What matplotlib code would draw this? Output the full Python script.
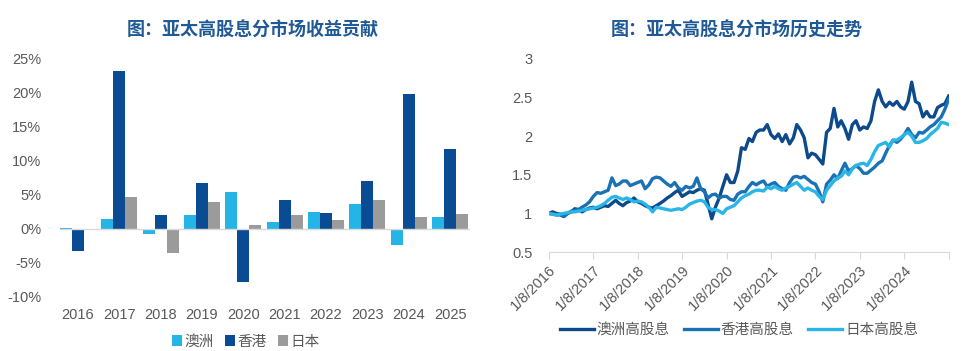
import numpy as np
import pandas as pd
import matplotlib
matplotlib.use("Agg")
import matplotlib.pyplot as plt
import matplotlib.dates as md

plt.rcParams['font.family'] = ['Liberation Sans', 'Noto Sans CJK SC']
plt.rcParams['axes.unicode_minus'] = False

# ---- left chart: yearly contribution (%)
years = ['2016', '2017', '2018', '2019', '2020', '2021', '2022', '2023', '2024', '2025']
au = [0.2, 1.4, -0.7, 2.1, 5.5, 1.0, 2.5, 3.7, -2.4, 1.8]
hk = [-3.2, 23.3, 2.0, 6.7, -7.8, 4.2, 2.3, 7.1, 19.9, 11.7]
jp = [-0.2, 4.7, -3.6, 4.0, 0.6, 2.0, 1.3, 4.2, 1.8, 2.2]

# ---- right chart: monthly index, 2016-08 .. 2025-08
au_idx = [1.00, 1.02, 1.00, 0.99, 0.96, 1.00, 1.02, 1.06, 1.05, 1.02, 1.05, 1.07,
          1.08, 1.06, 1.08, 1.10, 1.09, 1.13, 1.17, 1.13, 1.10, 1.14, 1.16, 1.20,
          1.15, 1.13, 1.10, 1.08, 1.07, 1.10, 1.13, 1.16, 1.20, 1.23, 1.27, 1.30,
          1.22, 1.25, 1.28, 1.27, 1.30, 1.32, 1.30, 1.12, 0.93, 1.08, 1.20, 1.35,
          1.50, 1.40, 1.40, 1.55, 1.85, 1.83, 1.97, 1.93, 2.05, 2.08, 2.08, 2.15,
          2.02, 1.97, 2.03, 1.93, 2.02, 1.90, 1.98, 2.15, 2.08, 1.98, 1.72, 1.78,
          1.76, 1.70, 1.64, 2.05, 2.10, 2.36, 2.12, 2.20, 2.10, 1.96, 2.15, 2.20,
          2.08, 2.12, 2.10, 2.20, 2.45, 2.60, 2.45, 2.38, 2.44, 2.40, 2.45, 2.38,
          2.35, 2.45, 2.70, 2.45, 2.42, 2.25, 2.32, 2.25, 2.25, 2.37, 2.40, 2.42,
          2.52]
hk_idx = [1.00, 0.99, 0.98, 0.98, 0.96, 1.00, 1.03, 1.04, 1.05, 1.08, 1.11, 1.15,
          1.22, 1.27, 1.26, 1.28, 1.30, 1.46, 1.36, 1.38, 1.42, 1.42, 1.36, 1.38,
          1.40, 1.42, 1.32, 1.37, 1.45, 1.47, 1.46, 1.42, 1.38, 1.35, 1.40, 1.33,
          1.30, 1.35, 1.33, 1.35, 1.46, 1.32, 1.28, 1.20, 1.24, 1.25, 1.20, 1.22,
          1.22, 1.18, 1.17, 1.25, 1.28, 1.28, 1.35, 1.40, 1.37, 1.40, 1.42, 1.35,
          1.38, 1.40, 1.35, 1.32, 1.30, 1.40, 1.47, 1.48, 1.46, 1.48, 1.44, 1.40,
          1.38, 1.28, 1.15, 1.38, 1.43, 1.50, 1.45, 1.55, 1.65, 1.55, 1.58, 1.62,
          1.58, 1.52, 1.52, 1.56, 1.60, 1.65, 1.68, 1.78, 1.88, 1.95, 1.92, 1.96,
          2.02, 2.10, 2.02, 1.98, 2.05, 2.04, 2.08, 2.12, 2.15, 2.20, 2.25, 2.35,
          2.48]
jp_idx = [1.00, 0.99, 0.98, 0.99, 1.00, 1.01, 1.02, 1.02, 1.03, 1.04, 1.05, 1.06,
          1.07, 1.08, 1.10, 1.13, 1.17, 1.21, 1.22, 1.20, 1.18, 1.20, 1.18, 1.15,
          1.16, 1.15, 1.12, 1.08, 1.02, 1.08, 1.07, 1.06, 1.05, 1.04, 1.05, 1.06,
          1.05, 1.08, 1.12, 1.14, 1.16, 1.17, 1.15, 1.08, 1.05, 1.05, 1.03, 1.00,
          1.06, 1.08, 1.10, 1.15, 1.20, 1.23, 1.25, 1.28, 1.30, 1.30, 1.29, 1.34,
          1.32, 1.35, 1.32, 1.30, 1.33, 1.35, 1.38, 1.40, 1.35, 1.30, 1.33, 1.30,
          1.28, 1.22, 1.18, 1.30, 1.36, 1.42, 1.46, 1.48, 1.55, 1.50, 1.58, 1.62,
          1.64, 1.65, 1.62, 1.70, 1.80, 1.88, 1.90, 1.92, 1.86, 1.95, 1.95, 1.98,
          2.02, 2.05, 2.00, 1.92, 1.92, 1.94, 1.97, 2.02, 2.06, 2.10, 2.18, 2.17,
          2.15]
dates = pd.date_range('2016-08-01', periods=len(au_idx), freq='MS')
tick_dates = pd.date_range('2016-08-01', '2024-08-01', freq='12MS')

c_au = '#25B4E6'
c_hk = '#0A4C93'
c_jp = '#9B9B9B'
l_au = '#0D4A8C'
l_hk = '#1A72B5'
l_jp = '#29B6E6'
title_c = '#1F5A96'
txt_c = '#595959'

fig = plt.figure(figsize=(9.75, 3.51), dpi=100)

# bar chart
ax1 = fig.add_axes([0.062, 0.154, 0.42, 0.678])
x = np.arange(len(years))
w = 0.29
ax1.bar(x - w, au, w, color=c_au, label='澳洲')
ax1.bar(x, hk, w, color=c_hk, label='香港')
ax1.bar(x + w, jp, w, color=c_jp, label='日本')
ax1.axhline(0, color='#D9D9D9', lw=1)
ax1.set_xlim(-0.42, 9.48)
ax1.set_ylim(-10, 25)
ax1.set_yticks(range(-10, 26, 5))
ax1.set_yticklabels([f'{v}%' for v in range(-10, 26, 5)])
ax1.set_xticks(x)
ax1.set_xticklabels(years)
for s in ax1.spines.values():
    s.set_visible(False)
ax1.tick_params(length=0, colors=txt_c, labelsize=10.5)
ax1.tick_params(axis='x', pad=8)
ax1.tick_params(axis='y', pad=14)
ax1.set_title('图：亚太高股息分市场收益贡献', color=title_c, fontsize=13,
              fontweight='bold', pad=17, x=0.47)
fig.legend(*ax1.get_legend_handles_labels(), loc='center', bbox_to_anchor=(0.252, 0.027),
           ncol=3, frameon=False, fontsize=10.5, labelcolor=txt_c, handlelength=0.7,
           handleheight=0.7, handletextpad=0.15, columnspacing=0.8)

# line chart
ax2 = fig.add_axes([0.563, 0.282, 0.41, 0.55])
ax2.plot(dates, au_idx, color=l_au, lw=2.4, label='澳洲高股息')
ax2.plot(dates, hk_idx, color=l_hk, lw=2.4, label='香港高股息')
ax2.plot(dates, jp_idx, color=l_jp, lw=2.4, label='日本高股息')
ax2.set_xlim(dates[0], dates[-1])
ax2.set_ylim(0.5, 3)
ax2.set_yticks([0.5, 1, 1.5, 2, 2.5, 3])
ax2.set_yticklabels(['0.5', '1', '1.5', '2', '2.5', '3'])
ax2.set_xticks(list(tick_dates) + [dates[-1]])
ax2.set_xticklabels([d.strftime('1/8/%Y') for d in tick_dates] + [''])
plt.setp(ax2.get_xticklabels(), rotation=45, ha='right', rotation_mode='anchor')
for s in ['top', 'right', 'left']:
    ax2.spines[s].set_visible(False)
ax2.spines['bottom'].set_color('#D9D9D9')
ax2.tick_params(axis='y', length=0, colors=txt_c, labelsize=10.5, pad=12)
ax2.tick_params(axis='x', length=5, color='#D9D9D9', labelcolor=txt_c, labelsize=10.5, pad=3)
ax2.set_title('图：亚太高股息分市场历史走势', color=title_c, fontsize=13,
              fontweight='bold', pad=17, x=0.47)
fig.legend(*ax2.get_legend_handles_labels(), loc='center', bbox_to_anchor=(0.758, 0.06),
           ncol=3, frameon=False, fontsize=10.5, labelcolor=txt_c, handlelength=2.3,
           handletextpad=0.2, columnspacing=1.0)

fig.savefig('out.png', dpi=100)
